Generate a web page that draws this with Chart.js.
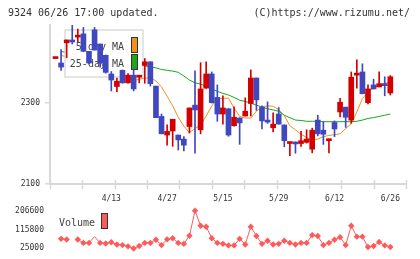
<!DOCTYPE html>
<html>
<head>
<meta charset="utf-8">
<script src="https://cdn.jsdelivr.net/npm/chart.js@4.4.1/dist/chart.umd.min.js"></script>
<style>
  body { margin: 0; background: #fff; }
  #wrap { position: relative; width: 420px; height: 259px; overflow: hidden; }
  canvas { position: absolute; left: 0; }
  #priceChart { top: 0; }
  #volChart { top: 200px; }
</style>
</head>
<body>
<div id="wrap">
  <canvas id="priceChart" width="420" height="205"></canvas>
  <canvas id="volChart" width="420" height="59"></canvas>
</div>
<script>
// trading days shown (2020)
const dates = ['3/30', '3/31', '4/1', '4/2', '4/3', '4/6', '4/7', '4/8', '4/9', '4/10',
    '4/13', '4/14', '4/15', '4/16', '4/17', '4/20', '4/21', '4/22', '4/23', '4/24',
    '4/27', '4/28', '4/30', '5/1', '5/7', '5/8', '5/11', '5/12', '5/13', '5/14',
    '5/15', '5/18', '5/19', '5/20', '5/21', '5/22', '5/25', '5/26', '5/27', '5/28',
    '5/29', '6/1', '6/2', '6/3', '6/4', '6/5', '6/8', '6/9', '6/10', '6/11',
    '6/12', '6/15', '6/16', '6/17', '6/18', '6/19', '6/22', '6/23', '6/24', '6/25', '6/26'];

const openP = [2410, 2399, 2449, 2456, 2463, 2471, 2428, 2481, 2446, 2418,
    2372, 2341, 2381, 2350, 2369, 2364, 2393, 2402, 2342, 2267,
    2221, 2231, 2221, 2211, 2242, 2295, 2234, 2337, 2372, 2314,
    2273, 2286, 2244, 2263, 2268, 2299, 2362, 2290, 2258, 2239,
    2273, 2246, 2200, 2204, 2200, 2203, 2186, 2258, 2233, 2207,
    2252, 2278, 2290, 2258, 2369, 2377, 2301, 2345, 2340, 2348, 2325];
const highP = [2412, 2432, 2456, 2493, 2483, 2487, 2428, 2487, 2446, 2419,
    2378, 2362, 2382, 2373, 2384, 2368, 2410, 2402, 2342, 2273,
    2246, 2260, 2221, 2217, 2288, 2380, 2400, 2402, 2377, 2345,
    2318, 2286, 2291, 2264, 2313, 2382, 2362, 2293, 2303, 2276,
    2289, 2246, 2203, 2204, 2230, 2234, 2238, 2270, 2254, 2211,
    2256, 2312, 2290, 2377, 2407, 2397, 2345, 2359, 2377, 2365, 2368];
const lowP = [2410, 2381, 2412, 2446, 2452, 2427, 2397, 2431, 2389, 2374,
    2330, 2328, 2349, 2349, 2330, 2350, 2349, 2342, 2264, 2224,
    2196, 2193, 2184, 2182, 2226, 2176, 2224, 2336, 2300, 2255,
    2248, 2218, 2243, 2198, 2268, 2268, 2282, 2236, 2250, 2229,
    2248, 2192, 2170, 2176, 2193, 2201, 2177, 2219, 2198, 2177,
    2217, 2266, 2240, 2250, 2337, 2323, 2298, 2335, 2340, 2318, 2320];
const closeP = [2412, 2389, 2456, 2451, 2466, 2428, 2399, 2431, 2399, 2376,
    2357, 2354, 2350, 2369, 2335, 2367, 2402, 2348, 2264, 2224,
    2230, 2260, 2209, 2196, 2288, 2283, 2335, 2372, 2301, 2273,
    2288, 2221, 2265, 2251, 2280, 2362, 2308, 2256, 2253, 2248,
    2248, 2207, 2203, 2199, 2207, 2211, 2233, 2224, 2223, 2211,
    2236, 2302, 2265, 2364, 2373, 2323, 2335, 2335, 2348, 2343, 2365];

const ma5 = [null, 2418, 2414, 2421, 2431, 2439, 2441, 2436, 2424, 2407,
    2392, 2377, 2367, 2362, 2355, 2359, 2362, 2362, 2355, 2340,
    2317, 2293, 2265, 2243, 2227, 2237, 2246, 2268, 2293, 2311,
    2312, 2312, 2288, 2267, 2263, 2263, 2280, 2291, 2293, 2292,
    2284, 2269, 2244, 2234, 2223, 2215, 2208, 2211, 2217, 2220,
    2222, 2224, 2237, 2249, 2278, 2311, 2327, 2337, 2345, 2349, 2351];
const ma25 = [null, 2428, 2424, 2419, 2416, 2414, 2411, 2409, 2406, 2404,
    2402, 2399, 2398, 2395, 2394, 2393, 2392, 2389, 2387, 2383,
    2381, 2379, 2376, 2367, 2357, 2350, 2347, 2341, 2335, 2329,
    2324, 2320, 2314, 2307, 2304, 2300, 2295, 2290, 2286, 2283,
    2280, 2270, 2264, 2258, 2257, 2255, 2255, 2255, 2254, 2254,
    2254, 2254, 2254, 2254, 2255, 2258, 2262, 2264, 2267, 2270, 2273];

const volume = [null, 70400, 67000, null, 67000, 50800, 50800, 81000, 50800, 47700,
    53600, 43200, 40100, 34000, 23600, 35400, 50800, 50800, 65900, 40100,
    68000, 73600, 50800, 46200, 85400, 206600, 134000, 129400, 73600, 50800,
    46200, 38600, 38600, 70400, 43200, 129400, 84000, 46200, 61300, 43200,
    46200, 61300, 50800, 43200, 50800, 50800, 88600, 84000, 40100, 50800,
    65900, 78100, 40100, 134000, 81000, 81000, 31000, 35400, 55400, 38600, 31000];
const volNoMarker = [7];

const priceTicks = [2100, 2300];
const volTicks = [25000, 115800, 206600];
const dateTicks = ['4/13', '4/27', '5/15', '5/29', '6/12', '6/26'];

const xMin = -0.986, xMax = 62.81;
const MONO = "'DejaVu Sans Mono', monospace";
const RED = '#d40000', BLUE = '#4048c0', ORANGE = '#f0901e', GREEN = '#18a818';
const VOLC = '#ff5a5a', AXIS = '#d8d8d8', TXT = '#333';

Chart.defaults.font.family = MONO;
Chart.defaults.font.size = 8;
Chart.defaults.color = TXT;

const candleColors = closeP.map((c, i) => c >= openP[i] ? RED : BLUE);
const wickData = dates.map((d, i) => ({ x: i, y: [lowP[i], highP[i]] }));
const bodyData = dates.map((d, i) => ({ x: i, y: [openP[i], closeP[i]] }));
const toXY = arr => arr.map((v, i) => ({ x: i, y: v }));

// legend box sits over the MA lines but under the candles
const priceDeco = {
    id: 'priceDeco',
    beforeDatasetDraw(chart, args) {
        if (args.index !== 2) return;
        const c = chart.ctx;
        const a = chart.chartArea;
        const bx = a.left + 15, by = a.top + 5;
        c.save();
        c.fillStyle = '#fff';
        c.fillRect(bx, by, 78, 47);
        c.strokeStyle = '#dcdcdc';
        c.lineWidth = 1.5;
        c.strokeRect(bx, by, 78, 47);
        c.font = '10px ' + MONO;
        c.fillStyle = '#444';
        c.textAlign = 'right';
        c.fillText('5-day MA', bx + 59, by + 20);
        c.fillText('25-day MA', bx + 59, by + 37);
        c.lineWidth = 1;
        c.strokeStyle = '#333';
        c.fillStyle = ORANGE;
        c.fillRect(bx + 66, by + 7.5, 6, 15);
        c.strokeRect(bx + 66.5, by + 7.5, 6, 15);
        c.fillStyle = GREEN;
        c.fillRect(bx + 66, by + 24.5, 6, 15);
        c.strokeRect(bx + 66.5, by + 24.5, 6, 15);
        c.restore();
    },
    afterDraw(chart) {
        const c = chart.ctx;
        const a = chart.chartArea;
        c.save();
        // small marks along the time axis
        c.strokeStyle = AXIS;
        c.lineWidth = 1.5;
        for (let k = 0; k <= 11; k++) {
            const x = Math.round(a.left + k * (a.right - a.left) / 11) + 0.5;
            c.beginPath();
            c.moveTo(x, a.bottom - 4);
            c.lineTo(x, a.bottom + 5);
            c.stroke();
        }
        c.font = '10px ' + MONO;
        c.fillStyle = TXT;
        c.textAlign = 'left';
        c.fillText('9324 06/26 17:00 updated.', 8, 16);
        c.textAlign = 'right';
        c.fillText('(C)https://www.rizumu.net/', 410, 16);
        c.restore();
    }
};

const volDeco = {
    id: 'volDeco',
    afterDraw(chart) {
        const c = chart.ctx;
        const a = chart.chartArea;
        c.save();
        c.font = '10px ' + MONO;
        c.fillStyle = '#444';
        c.textAlign = 'left';
        c.fillText('Volume', a.left + 9, 26);
        c.fillStyle = VOLC;
        c.fillRect(a.left + 51, 13, 6, 15);
        c.strokeStyle = '#333';
        c.lineWidth = 1;
        c.strokeRect(a.left + 51.5, 13.5, 6, 15);
        c.restore();
    }
};

new Chart(document.getElementById('priceChart'), {
    type: 'bar',
    data: {
        datasets: [
            { type: 'line', label: '5-day MA', data: toXY(ma5), borderColor: ORANGE, borderWidth: 1, pointRadius: 0, order: 4 },
            { type: 'line', label: '25-day MA', data: toXY(ma25), borderColor: GREEN, borderWidth: 1, pointRadius: 0, order: 3 },
            { type: 'bar', label: 'wick', data: wickData, backgroundColor: candleColors, barThickness: 1, grouped: false, order: 2 },
            { type: 'bar', label: 'body', data: bodyData, backgroundColor: candleColors, barThickness: 5, minBarLength: 2, grouped: false, order: 1 }
        ]
    },
    options: {
        responsive: false,
        animation: false,
        devicePixelRatio: 1,
        events: [],
        layout: { padding: { top: 25, right: 14, left: 0, bottom: 0 } },
        plugins: { legend: { display: false }, tooltip: { enabled: false } },
        scales: {
            x: {
                type: 'linear',
                min: xMin,
                max: xMax,
                offset: false,
                afterBuildTicks: s => { s.ticks = dateTicks.map(t => ({ value: dates.indexOf(t) })); },
                afterFit: s => { s.height = 21; },
                ticks: {
                    callback: v => dates[v],
                    autoSkip: false,
                    maxRotation: 0,
                    padding: 10,
                    font: { size: 8 }
                },
                grid: { display: false, drawTicks: false },
                border: { color: AXIS, width: 2 }
            },
            y: {
                min: 2100,
                max: 2493,
                afterBuildTicks: s => { s.ticks = priceTicks.map(v => ({ value: v })); },
                afterFit: s => { s.width = 50; },
                ticks: { padding: 5, font: { size: 8 }, callback: v => String(v) },
                grid: { drawOnChartArea: false, tickLength: 5, color: AXIS, lineWidth: 1.5 },
                border: { color: AXIS, width: 2 }
            }
        }
    },
    plugins: [priceDeco]
});

new Chart(document.getElementById('volChart'), {
    type: 'line',
    data: {
        datasets: [{
            label: 'Volume',
            data: toXY(volume),
            borderColor: VOLC,
            borderWidth: 1,
            pointStyle: 'rectRot',
            pointRadius: volume.map((v, i) => volNoMarker.includes(i) ? 0 : 3.2),
            pointBackgroundColor: VOLC,
            pointBorderWidth: 0,
            spanGaps: false,
            clip: false
        }]
    },
    options: {
        responsive: false,
        animation: false,
        devicePixelRatio: 1,
        events: [],
        layout: { padding: { top: 9, right: 14, left: 0, bottom: 10 } },
        plugins: { legend: { display: false }, tooltip: { enabled: false } },
        scales: {
            x: { type: 'linear', min: xMin, max: xMax, display: false },
            y: {
                min: 25000,
                max: 206600,
                afterBuildTicks: s => { s.ticks = volTicks.map(v => ({ value: v })); },
                afterFit: s => { s.width = 50; },
                ticks: { padding: 6, font: { size: 8 }, callback: v => String(v) },
                grid: { display: false, drawTicks: false },
                border: { display: false }
            }
        }
    },
    plugins: [volDeco]
});
</script>
</body>
</html>
